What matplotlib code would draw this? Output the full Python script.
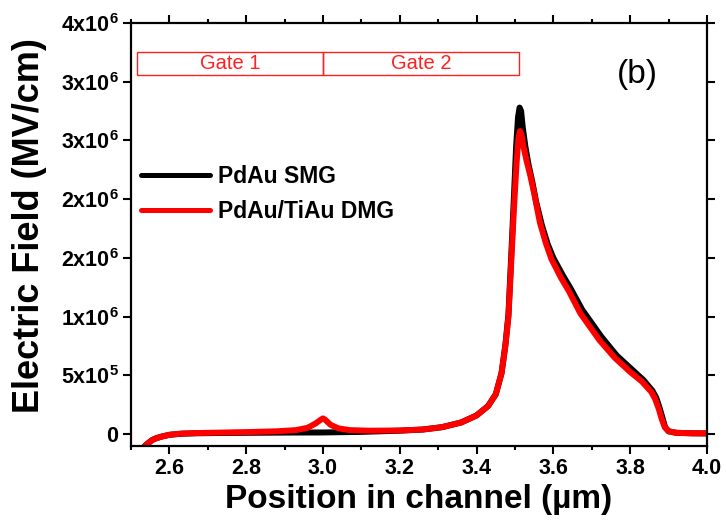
import numpy as np
import matplotlib
matplotlib.use('Agg')
from matplotlib import pyplot as plt
from matplotlib.patches import Rectangle
from matplotlib.ticker import MultipleLocator

plt.rcParams['font.family'] = ['Liberation Sans', 'DejaVu Sans']
plt.rcParams['mathtext.default'] = 'regular'

# field profile along the channel, values in units of 1e6
x_smg = [2.536, 2.545, 2.555, 2.565, 2.58, 2.60, 2.63, 2.67, 2.72, 2.80,
         2.90, 3.0, 3.10, 3.20, 3.26, 3.31, 3.36, 3.40, 3.43, 3.45,
         3.465, 3.475, 3.483, 3.49, 3.497, 3.503, 3.508, 3.512, 3.516, 3.52,
         3.527, 3.535, 3.545, 3.555, 3.57, 3.585, 3.60, 3.625, 3.645, 3.675,
         3.725, 3.765, 3.805, 3.835, 3.858, 3.868, 3.877, 3.884, 3.891, 3.90,
         3.92, 3.96, 4.0]
e_smg = [-0.10, -0.075, -0.05, -0.035, -0.02, -0.005, 0.004, 0.008, 0.010, 0.012,
         0.014, 0.015, 0.02, 0.03, 0.04, 0.06, 0.10, 0.16, 0.24, 0.34,
         0.52, 0.76, 1.02, 1.50, 2.00, 2.45, 2.70, 2.78, 2.75, 2.62,
         2.45, 2.30, 2.15, 1.98, 1.78, 1.62, 1.50, 1.35, 1.24, 1.06,
         0.83, 0.67, 0.55, 0.46, 0.37, 0.31, 0.22, 0.14, 0.06, 0.025,
         0.012, 0.008, 0.007]

x_dmg = [2.536, 2.545, 2.555, 2.565, 2.58, 2.60, 2.63, 2.67, 2.72, 2.80,
         2.88, 2.93, 2.96, 2.98, 2.995, 3.0, 3.005, 3.02, 3.04, 3.07,
         3.12, 3.20, 3.26, 3.31, 3.36, 3.40, 3.43, 3.45, 3.465, 3.475,
         3.483, 3.49, 3.497, 3.504, 3.509, 3.513, 3.517, 3.522, 3.53, 3.54,
         3.55, 3.565, 3.58, 3.595, 3.62, 3.64, 3.67, 3.72, 3.76, 3.80,
         3.83, 3.855, 3.865, 3.875, 3.882, 3.89, 3.90, 3.92, 3.96, 4.0]
e_dmg = [-0.10, -0.075, -0.05, -0.035, -0.02, -0.005, 0.005, 0.010, 0.013, 0.018,
         0.025, 0.035, 0.055, 0.09, 0.125, 0.135, 0.125, 0.08, 0.05, 0.035,
         0.03, 0.032, 0.04, 0.06, 0.10, 0.16, 0.24, 0.34, 0.52, 0.75,
         1.00, 1.45, 1.90, 2.30, 2.52, 2.58, 2.55, 2.45, 2.33, 2.20,
         2.05, 1.80, 1.63, 1.49, 1.33, 1.22, 1.03, 0.80, 0.65, 0.53,
         0.45, 0.36, 0.30, 0.21, 0.13, 0.06, 0.025, 0.012, 0.008, 0.007]

series_names = ['PdAu SMG', 'PdAu/TiAu DMG']

ytick_vals = [0, 0.5, 1.0, 1.5, 2.0, 2.5, 3.0, 3.5]
ytick_text = ['0', '5x10$^5$', '1x10$^6$', '2x10$^6$', '2x10$^6$',
              '3x10$^6$', '3x10$^6$', '4x10$^6$']

gate_names = ['Gate 1', 'Gate 2']
gate_edges = [2.516, 3.0, 3.51]

fig = plt.figure(figsize=(7.26, 5.21), dpi=100)
ax = fig.add_axes([0.1804, 0.144, 0.7934, 0.8119])

ax.plot(x_smg, np.array(e_smg) * 1e6, color='black', lw=4.3,
        solid_capstyle='round', label=series_names[0])
ax.plot(x_dmg, np.array(e_dmg) * 1e6, color='#ff0000', lw=4.3,
        solid_capstyle='round', label=series_names[1])

ax.set_xlim(2.5, 4.0)
ax.set_ylim(-0.1e6, 3.5e6)
ax.xaxis.set_minor_locator(MultipleLocator(0.1))
ax.set_xticks([2.6, 2.8, 3.0, 3.2, 3.4, 3.6, 3.8, 4.0])
ax.set_yticks(np.array(ytick_vals) * 1e6)
ax.set_yticklabels(ytick_text)

for s in ax.spines.values():
    s.set_linewidth(1.6)
ax.tick_params(which='both', direction='out', width=1.5, top=True, right=True,
               labelsize=15.5)
ax.tick_params(which='major', length=5.5)
ax.tick_params(which='minor', length=3)
ax.tick_params(axis='y', which='minor', left=False, right=False)
for lab in ax.get_xticklabels() + ax.get_yticklabels():
    lab.set_fontweight('bold')

ax.set_xlabel('Position in channel (\u00b5m)', fontsize=24, fontweight='bold',
              labelpad=3)
ax.set_ylabel('Electric Field (MV/cm)', fontsize=26, fontweight='bold')
ax.yaxis.set_label_coords(-0.146, 0.522)

# gate regions drawn as outlined boxes near the top
box_lo, box_hi = 3.06e6, 3.254e6
for name, x0, x1 in zip(gate_names, gate_edges[:-1], gate_edges[1:]):
    ax.add_patch(Rectangle((x0, box_lo), x1 - x0, box_hi - box_lo,
                           fill=False, edgecolor='#ff2020', lw=1.0))
    ax.text((x0 + x1) / 2, (box_lo + box_hi) / 2, name, color='#ff2020',
            fontsize=14.5, ha='center', va='center')

ax.text(3.82, 3.06e6, '(b)', fontsize=24, ha='center', va='center')

leg = ax.legend(loc='upper left', bbox_to_anchor=(0.018, 0.664),
                frameon=False, fontsize=16.5, handlelength=3.0,
                handletextpad=0.35, labelspacing=0.5, borderpad=0,
                borderaxespad=0)
for t in leg.get_texts():
    t.set_fontweight('bold')
for h in leg.get_lines():
    h.set_linewidth(3.6)

fig.savefig('out.png', dpi=100)
